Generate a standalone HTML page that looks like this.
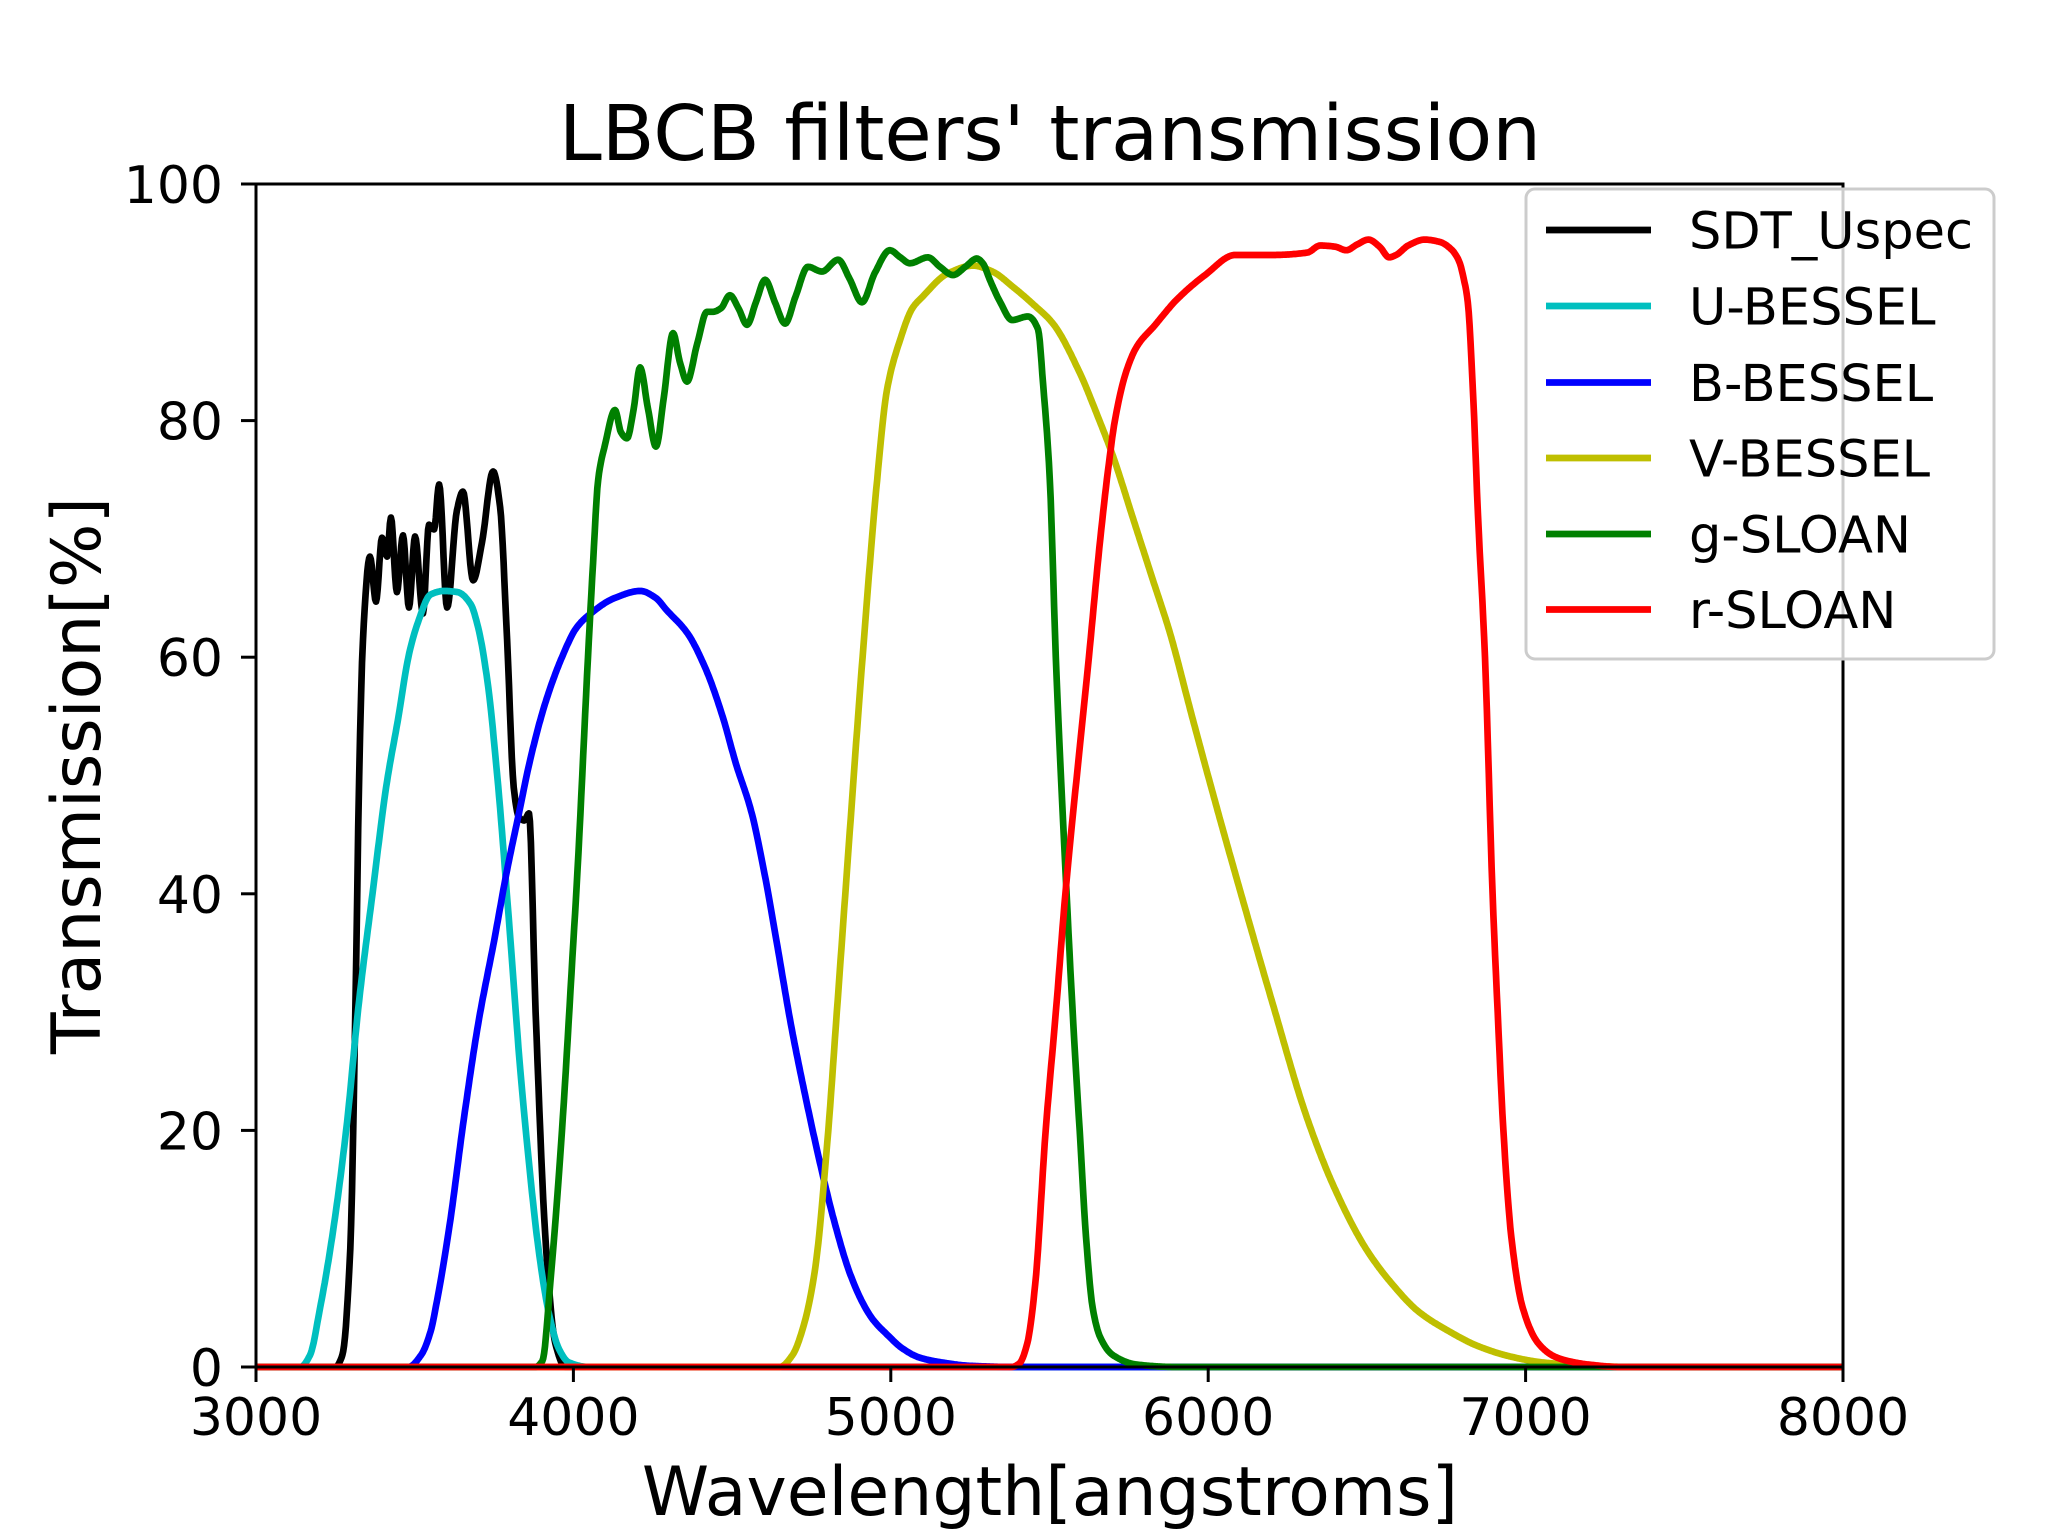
<!DOCTYPE html>
<html><head><meta charset="utf-8"><style>
html,body{margin:0;padding:0;background:#fff}
svg{display:block}
text{font-family:"DejaVu Sans","Liberation Sans",sans-serif;fill:#000}
</style></head><body>
<svg id="s" width="2048" height="1536" viewBox="0 0 2048 1536" xmlns="http://www.w3.org/2000/svg">
<rect width="2048" height="1536" fill="#fff"/>
<g id="curves" fill="none" stroke-width="6.7" stroke-linejoin="round" stroke-linecap="butt"></g>
<rect x="256" y="184" width="1587" height="1183" fill="none" stroke="#000" stroke-width="3"/>
<g stroke="#000" stroke-width="3">
<line x1="256" y1="1367" x2="256" y2="1382"/><line x1="573.4" y1="1367" x2="573.4" y2="1382"/><line x1="890.8" y1="1367" x2="890.8" y2="1382"/><line x1="1208.2" y1="1367" x2="1208.2" y2="1382"/><line x1="1525.6" y1="1367" x2="1525.6" y2="1382"/><line x1="1843" y1="1367" x2="1843" y2="1382"/>
<line x1="241" y1="1367" x2="256" y2="1367"/><line x1="241" y1="1130.4" x2="256" y2="1130.4"/><line x1="241" y1="893.8" x2="256" y2="893.8"/><line x1="241" y1="657.2" x2="256" y2="657.2"/><line x1="241" y1="420.6" x2="256" y2="420.6"/><line x1="241" y1="184" x2="256" y2="184"/>
</g>
<g font-size="52" text-anchor="middle">
<text x="256" y="1435">3000</text><text x="573.4" y="1435">4000</text><text x="890.8" y="1435">5000</text><text x="1208.2" y="1435">6000</text><text x="1525.6" y="1435">7000</text><text x="1843" y="1435">8000</text>
</g>
<g font-size="52" text-anchor="end">
<text x="223" y="1386">0</text><text x="223" y="1149.4">20</text><text x="223" y="912.8">40</text><text x="223" y="676.2">60</text><text x="223" y="439.6">80</text><text x="223" y="203">100</text>
</g>
<text x="1050" y="160" font-size="77" text-anchor="middle">LBCB filters' transmission</text>
<text x="1050" y="1515" font-size="68" text-anchor="middle">Wavelength[angstroms]</text>
<text transform="translate(100,775.5) rotate(-90)" font-size="68" text-anchor="middle">Transmission[%]</text>
<rect x="1526" y="189" width="468" height="470" rx="9" fill="#fff" fill-opacity="0.8" stroke="#ccc" stroke-width="3"/>
<g stroke-width="6.7">
<line x1="1546" y1="230" x2="1651" y2="230" stroke="#000"/>
<line x1="1546" y1="306" x2="1651" y2="306" stroke="#00bfbf"/>
<line x1="1546" y1="382.5" x2="1651" y2="382.5" stroke="#0000ff"/>
<line x1="1546" y1="458" x2="1651" y2="458" stroke="#bfbf00"/>
<line x1="1546" y1="534" x2="1651" y2="534" stroke="#008000"/>
<line x1="1546" y1="609.5" x2="1651" y2="609.5" stroke="#ff0000"/>
</g>
<g font-size="51">
<text x="1689" y="248.5">SDT_Uspec</text>
<text x="1689" y="324.5">U-BESSEL</text>
<text x="1689" y="401">B-BESSEL</text>
<text x="1689" y="476.5">V-BESSEL</text>
<text x="1689" y="552.5">g-SLOAN</text>
<text x="1689" y="628">r-SLOAN</text>
</g>
</svg>
<script>
var S={
k:[[3000,0],[3250,0],[3272,1],[3297,10],[3313,30],[3325,50],[3337,61.5],[3359,68.5],[3378,64.7],[3397,70.1],[3413,68.5],[3425,71.8],[3444,65.5],[3463,70.3],[3482,64.2],[3501,70.2],[3526,63.7],[3545,71.2],[3561,70.8],[3577,74.6],[3602,64.2],[3633,72.4],[3652,74.0],[3684,66.5],[3712,69.7],[3747,75.7],[3769,72.7],[3791,61.5],[3812,49],[3828,46.5],[3845,46.2],[3860,46.8],[3881,30],[3914,10],[3943,2],[3975,0],[8000,0]],
c:[[3000,0],[3140,0],[3170,1],[3202,5],[3240,11],[3284,20],[3325,31],[3367,40],[3410,49],[3449,55],[3480,60],[3511,63],[3550,65.3],[3593,65.6],[3635,65.5],[3676,64.5],[3700,62.5],[3729,58],[3760,50],[3799,37],[3830,26],[3861,17],[3890,10],[3923,4.5],[3955,1.5],[3985,0.4],[4050,0],[8000,0]],
b:[[3000,0],[3480,0],[3520,1],[3550,3],[3573,6],[3610,12],[3655,21],[3700,29],[3750,36],[3791,42],[3830,47],[3861,51],[3910,56],[3964,60],[4010,62.5],[4046,63.5],[4130,65],[4211,65.6],[4260,65],[4293,64],[4360,62],[4417,59],[4470,55],[4512,51],[4560,47],[4600,42],[4640,36],[4685,29],[4730,23],[4779,17],[4820,12.5],[4870,8],[4910,5.5],[4944,4],[4990,2.7],[5035,1.6],[5090,0.8],[5158,0.4],[5250,0.1],[5400,0],[8000,0]],
y:[[3000,0],[4650,0],[4690,1],[4720,3],[4760,8],[4800,19],[4830,30],[4862,42],[4911,60],[4957,75],[4988,82.6],[5029,86.8],[5068,89.5],[5101,90.5],[5177,92.4],[5259,93.1],[5320,92.6],[5385,91.3],[5450,89.8],[5511,88.2],[5596,84],[5650,80.5],[5700,77],[5760,72],[5820,67],[5880,62],[5949,55],[6030,47],[6114,39],[6200,31],[6312,21],[6400,15],[6497,10],[6580,7],[6662,4.7],[6760,3],[6847,1.8],[6950,0.9],[7050,0.4],[7200,0.1],[7350,0],[8000,0]],
g:[[3000,0],[3880,0],[3902,0.5],[3930,8],[3964,20],[4000,36],[4013,42],[4046,60],[4062,68],[4078,75],[4100,78],[4131,80.9],[4150,79],[4169,78.5],[4190,81],[4210,84.5],[4235,81],[4260,77.8],[4285,82],[4314,87.4],[4335,85],[4358,83.3],[4390,86.5],[4421,89.2],[4440,89.2],[4465,89.5],[4493,90.6],[4520,89.5],[4547,88.1],[4575,90],[4604,91.9],[4635,90],[4667,88.2],[4700,90.5],[4739,93.0],[4783,92.6],[4834,93.6],[4870,92],[4909,90.0],[4950,92.5],[4997,94.4],[5030,93.8],[5060,93.3],[5117,93.8],[5155,93],[5196,92.3],[5235,93],[5271,93.7],[5290,93.3],[5312,91.9],[5345,90],[5382,88.5],[5432,88.8],[5464,87.7],[5480,83],[5501,75],[5520,60],[5554,40],[5575,29],[5595,20],[5615,11],[5636,5],[5660,2.5],[5700,1],[5776,0.2],[5900,0],[8000,0]],
r:[[3000,0],[5380,0],[5405,0.3],[5430,2],[5455,7],[5488,20],[5520,30],[5550,40],[5590,51],[5624,60],[5660,70],[5690,77],[5706,80],[5740,84],[5776,86.3],[5830,88],[5900,90.2],[5990,92.3],[6085,94],[6200,94],[6312,94.2],[6353,94.8],[6400,94.7],[6435,94.4],[6470,94.9],[6505,95.3],[6540,94.7],[6570,93.8],[6592,94],[6630,94.8],[6682,95.3],[6730,95.1],[6765,94.5],[6790,93.5],[6805,92],[6818,90],[6835,82],[6850,72],[6872,60],[6896,40],[6912,30],[6930,20],[6955,11],[6991,5],[7040,2],[7090,0.9],[7135,0.5],[7200,0.2],[7300,0],[8000,0]]
};
function mono(p){
 var n=p.length,d=[],m=[];
 for(var i=0;i<n-1;i++)d.push((p[i+1][1]-p[i][1])/(p[i+1][0]-p[i][0]));
 m[0]=d[0];m[n-1]=d[n-2];
 for(var i=1;i<n-1;i++){ if(d[i-1]*d[i]<=0)m[i]=0; else { var h0=p[i][0]-p[i-1][0],h1=p[i+1][0]-p[i][0]; var w1=2*h1+h0,w2=h1+2*h0; m[i]=(w1+w2)/(w1/d[i-1]+w2/d[i]); } }
 var out=[];
 for(var i=0;i<n-1;i++){
  var x0=p[i][0],x1=p[i+1][0],y0=p[i][1],y1=p[i+1][1],h=x1-x0;
  var steps=Math.max(2,Math.min(60,Math.ceil(h/3)));
  for(var s=0;s<steps;s++){
   var t=s/steps,t2=t*t,t3=t2*t;
   var y=(2*t3-3*t2+1)*y0+(t3-2*t2+t)*h*m[i]+(-2*t3+3*t2)*y1+(t3-t2)*h*m[i+1];
   out.push([x0+t*h,y]);
  }
 }
 out.push(p[n-1]);return out;
}
var cols={k:"#000000",c:"#00bfbf",b:"#0000ff",y:"#bfbf00",g:"#008000",r:"#ff0000"};
var g=document.getElementById("curves"),html="";
["k","c","b","y","g","r"].forEach(function(k){
 var pts=mono(S[k]),d="";
 pts.forEach(function(q,i){var X=256+(q[0]-3000)*0.3174,Y=1367-q[1]*11.83;d+=(i?"L":"M")+X.toFixed(1)+" "+Y.toFixed(1);});
 html+='<path d="'+d+'" stroke="'+cols[k]+'"/>';
});
g.innerHTML=html;
</script>
</body></html>
